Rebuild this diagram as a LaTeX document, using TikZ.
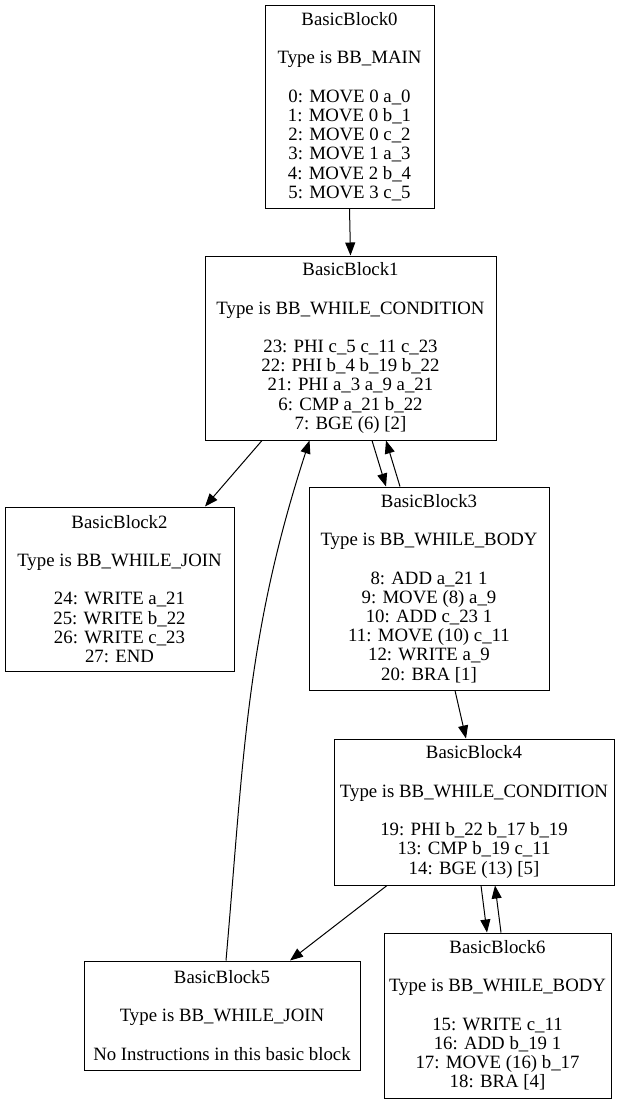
\documentclass[tikz,border=0pt]{standalone}
\usepackage{fontspec}
\setmainfont{Liberation Serif}
\usetikzlibrary{arrows.meta}
\usetikzlibrary{positioning,calc}
\tikzset{block/.style={draw, line width=1pt, rectangle, align=center,
      inner sep=0pt, font=\fontsize{18.8}{19.2}\selectfont},
   flow/.style={line width=1pt, -{Triangle[length=13pt,width=10pt]}}}

\begin{document}
\begin{tikzpicture}[x=1pt,y=1pt]
      \useasboundingbox (0,0) rectangle (631,-1104);

      % main block
      \node[block, minimum width=169pt, minimum height=203pt] (bb0) at (349.5,-106.5)
         {BasicBlock0\\[19.2pt] Type is BB\_MAIN\\[19.2pt]
          0: MOVE 0 a\_0\\ 1: MOVE 0 b\_1\\ 2: MOVE 0 c\_2\\
          3: MOVE 1 a\_3\\ 4: MOVE 2 b\_4\\ 5: MOVE 3 c\_5};

      % outer while loop
      \node[block, minimum width=291pt, minimum height=184pt] (bb1) at (350.5,-348)
         {BasicBlock1\\[19.2pt] Type is BB\_WHILE\_CONDITION\\[19.2pt]
          23: PHI c\_5 c\_11 c\_23\\ 22: PHI b\_4 b\_19 b\_22\\
          21: PHI a\_3 a\_9 a\_21\\ 6: CMP a\_21 b\_22\\ 7: BGE (6) [2]};
      \node[block, minimum width=229pt, minimum height=164pt] (bb2) at (119.5,-589)
         {BasicBlock2\\[19.2pt] Type is BB\_WHILE\_JOIN\\[19.2pt]
          24: WRITE a\_21\\ 25: WRITE b\_22\\ 26: WRITE c\_23\\ 27: END};
      \node[block, minimum width=240pt, minimum height=203pt] (bb3) at (429,-588.5)
         {BasicBlock3\\[19.2pt] Type is BB\_WHILE\_BODY\\[19.2pt]
          8: ADD a\_21 1\\ 9: MOVE (8) a\_9\\ 10: ADD c\_23 1\\
          11: MOVE (10) c\_11\\ 12: WRITE a\_9\\ 20: BRA [1]};

      % inner while loop
      \node[block, minimum width=280pt, minimum height=146pt] (bb4) at (474,-812)
         {BasicBlock4\\[19.2pt] Type is BB\_WHILE\_CONDITION\\[19.2pt]
          19: PHI b\_22 b\_17 b\_19\\ 13: CMP b\_19 c\_11\\ 14: BGE (13) [5]};
      \node[block, minimum width=276pt, minimum height=109pt] (bb5) at (222,-1015.5)
         {BasicBlock5\\[19.2pt] Type is BB\_WHILE\_JOIN\\[19.2pt]
          No Instructions in this basic block};
      \node[block, minimum width=227pt, minimum height=165pt] (bb6) at (497.5,-1015.5)
         {BasicBlock6\\[19.2pt] Type is BB\_WHILE\_BODY\\[19.2pt]
          15: WRITE c\_11\\ 16: ADD b\_19 1\\ 17: MOVE (16) b\_17\\ 18: BRA [4]};

      % edges
      \draw[flow] (bb0.south) -- (bb1.north);
      \draw[flow] ([xshift=-88.5pt]bb1.south) -- ([xshift=85.5pt]bb2.north);
      \draw[flow] ([xshift=21.5pt]bb1.south) -- ([xshift=-43pt]bb3.north);
      \draw[flow] ([xshift=-29pt]bb3.north) -- ([xshift=35.5pt]bb1.south);
      \draw[flow] ([xshift=26pt]bb3.south) -- ([xshift=-8pt]bb4.north);
      \draw[flow] ([xshift=-87pt]bb4.south) -- ([xshift=68pt]bb5.north);
      \draw[flow] ([xshift=7pt]bb4.south) -- ([xshift=-10.5pt]bb6.north);
      \draw[flow] ([xshift=3.5pt]bb6.north) -- ([xshift=21pt]bb4.south);
      \draw[flow] ([xshift=4pt]bb5.north) to[out=85, in=252] ([xshift=-41pt]bb1.south);
\end{tikzpicture}
\end{document}
